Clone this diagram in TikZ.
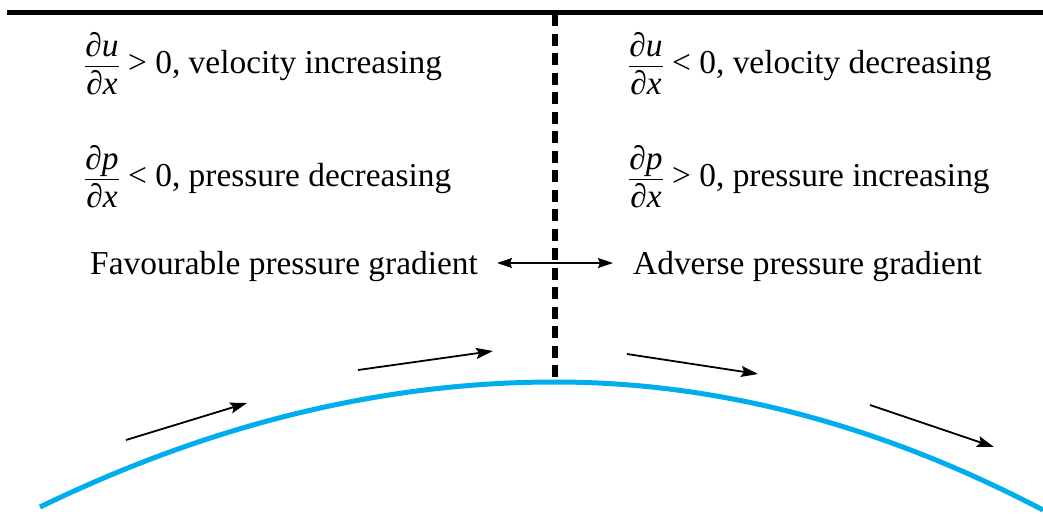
\documentclass[tikz,border=0pt]{standalone}
\usepackage{amsmath}
\usepackage{fontspec}
\setmainfont{Liberation Serif}
\usetikzlibrary{arrows.meta}
\definecolor{curveblue}{RGB}{0,174,239}
\newcommand\pdfrac[2]{\ensuremath{\dfrac{\text{\itshape ∂#1}}{\text{\itshape ∂#2}}}}
\begin{document}
\begin{tikzpicture}[x=1pt,y=-1pt,
  lbl/.style={anchor=base west,inner sep=0pt,font=\fontsize{33.4}{40}\selectfont},
  flow/.style={line width=1.8pt,-{Stealth[length=17pt,width=11pt,inset=3pt]}},
  dbl/.style={line width=1.6pt,{Stealth[length=15pt,width=10pt,inset=2pt]}-{Stealth[length=15pt,width=10pt,inset=2pt]}},
  topline/.style={line width=5pt},
  divider/.style={line width=6pt,dash pattern=on 12pt off 7.5pt},
  surface/.style={line width=5pt,curveblue}]
\useasboundingbox (0,0) rectangle (1043,517);
% top wall
\coordinate (tl) at (7,12);
\coordinate (tr) at (1043,12);
\draw[topline] (tl) -- (tr);
% surface
\coordinate (sL) at (40,507);
\coordinate (sT) at (555,382);
\coordinate (sR) at (1043,510);
\draw[surface] (sL) .. controls (211.7,423.7) and (383.3,382) .. (sT)
  .. controls (717.7,382) and (880.3,424.7) .. (sR);
% divider
\coordinate (dTop) at (555,14);
\draw[divider] (dTop) -- (sT);
% labels
\node[lbl] (ul) at (84,73) {\pdfrac{u}{x} > 0, velocity increasing};
\node[lbl] (pl) at (84,186) {\pdfrac{p}{x} < 0, pressure decreasing};
\node[lbl] (ur) at (628,73) {\pdfrac{u}{x} < 0, velocity decreasing};
\node[lbl] (pr) at (628,186) {\pdfrac{p}{x} > 0, pressure increasing};
\node[lbl] (fav) at (90,274) {Favourable pressure gradient};
\node[lbl] (adv) at (633,274) {Adverse pressure gradient};
% double arrow
\coordinate (da) at (497,263);
\coordinate (db) at (613,263);
\draw[dbl] (da) -- (db);
% flow arrows
\coordinate (a1s) at (126,440); \coordinate (a1e) at (247,403);
\coordinate (a2s) at (358,370); \coordinate (a2e) at (493,351);
\coordinate (a3s) at (627,354); \coordinate (a3e) at (758,374);
\coordinate (a4s) at (870,405); \coordinate (a4e) at (994,447);
\draw[flow] (a1s) -- (a1e);
\draw[flow] (a2s) -- (a2e);
\draw[flow] (a3s) -- (a3e);
\draw[flow] (a4s) -- (a4e);
\end{tikzpicture}
\end{document}
